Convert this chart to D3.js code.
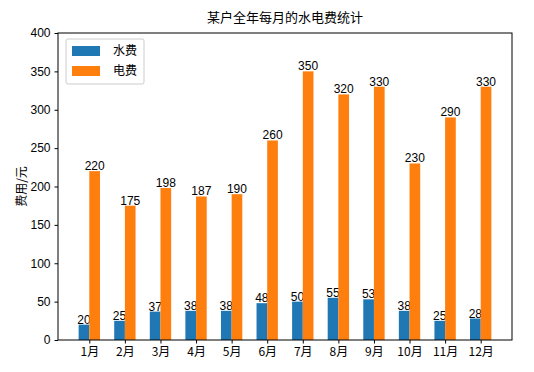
<!DOCTYPE html>
<html>
<head>
<meta charset="utf-8">
<script src="https://cdn.jsdelivr.net/npm/d3@7"></script>
<style>
  body { margin: 0; background: #fff; }
  text { font-family: "Liberation Sans", "Noto Sans CJK SC", sans-serif; }
  .cjk { font-family: "Noto Sans CJK SC", sans-serif; }
</style>
</head>
<body>
<div id="chart-area"></div>
<script>
var months = ["1月","2月","3月","4月","5月","6月","7月","8月","9月","10月","11月","12月"];
var water = [20, 25, 37, 38, 38, 48, 50, 55, 53, 38, 25, 28];
var power = [220, 175, 198, 187, 190, 260, 350, 320, 330, 230, 290, 330];
var seriesNames = ["水费", "电费"];
var colors = ["#1f77b4", "#ff7f0e"];
var yTicks = [0, 50, 100, 150, 200, 250, 300, 350, 400];

var margin = { left: 58, right: 22, top: 33, bottom: 32 };
var W = 534, H = 372;
var width = W - margin.left - margin.right;
var height = H - margin.top - margin.bottom;
var barW = 0.3;

var svg = d3.select("#chart-area")
    .append("svg")
    .attr("width", W)
    .attr("height", H);

var g = svg.append("g")
    .attr("transform", "translate(" + margin.left + "," + margin.top + ")");

// months at 1..12, bars span 0.7..12.3, plus 5% padding
var x = d3.scaleLinear()
    .domain([0.12, 12.88])
    .range([0, width]);

var y = d3.scaleLinear()
    .domain([0, 400])
    .range([height, 0]);

// bars
var series = [water, power];
series.forEach(function(vals, s) {
    var off = s === 0 ? -barW : 0;
    g.selectAll(".bar" + s)
        .data(vals)
        .enter()
        .append("rect")
            .attr("x", function(d, i) { return x(i + 1 + off); })
            .attr("width", x(barW) - x(0))
            .attr("y", function(d) { return y(d); })
            .attr("height", function(d) { return y(0) - y(d); })
            .attr("fill", colors[s]);

    g.selectAll(".lab" + s)
        .data(vals)
        .enter()
        .append("text")
            .attr("x", function(d, i) { return x(i + 1 + off + barW / 2); })
            .attr("y", function(d) { return y(d) - 1; })
            .attr("text-anchor", "middle")
            .attr("font-size", 12)
            .attr("fill", "#000")
            .text(function(d) { return d; });
});

// axes
var xAxis = d3.axisBottom(x)
    .tickValues(d3.range(1, 13))
    .tickFormat(function(d) { return months[d - 1]; })
    .tickSize(3.5)
    .tickPadding(4);
var yAxis = d3.axisLeft(y)
    .tickValues(yTicks)
    .tickSize(3.5)
    .tickPadding(4);

var gx = g.append("g")
    .attr("transform", "translate(0," + height + ")")
    .call(xAxis);
var gy = g.append("g").call(yAxis);

[gx, gy].forEach(function(a) {
    a.select(".domain").remove();
    a.selectAll("text").attr("font-size", 12).attr("fill", "#000");
    a.selectAll("line").attr("stroke", "#000");
});
gx.selectAll("text").attr("class", "cjk");

// frame
g.append("rect")
    .attr("width", width)
    .attr("height", height)
    .attr("fill", "none")
    .attr("stroke", "#000")
    .attr("stroke-width", 1);

// title
svg.append("text")
    .attr("class", "cjk")
    .attr("x", margin.left + width / 2)
    .attr("y", 22)
    .attr("text-anchor", "middle")
    .attr("font-size", 13)
    .text("某户全年每月的水电费统计");

// y label
svg.append("text")
    .attr("class", "cjk")
    .attr("transform", "translate(26," + (margin.top + height / 2) + ") rotate(-90)")
    .attr("text-anchor", "middle")
    .attr("font-size", 12)
    .text("费用/元");

// legend
var lg = g.append("g").attr("transform", "translate(8,6)");
lg.append("rect")
    .attr("width", 78)
    .attr("height", 45)
    .attr("rx", 2)
    .attr("fill", "#fff")
    .attr("fill-opacity", 0.8)
    .attr("stroke", "#ccc");
seriesNames.forEach(function(n, i) {
    lg.append("rect")
        .attr("x", 6)
        .attr("y", 7 + i * 20)
        .attr("width", 28)
        .attr("height", 10)
        .attr("fill", colors[i]);
    lg.append("text")
        .attr("class", "cjk")
        .attr("x", 47)
        .attr("y", 16 + i * 20)
        .attr("font-size", 12)
        .text(n);
});
</script>
</body>
</html>
